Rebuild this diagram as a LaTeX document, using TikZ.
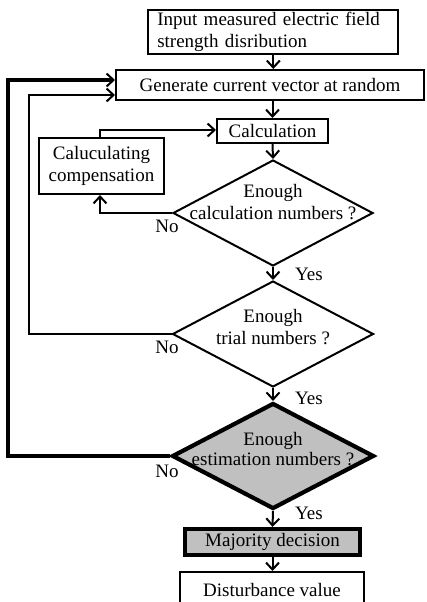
\documentclass[tikz,border=0pt]{standalone}
\usepackage{fontspec}
\setmainfont{Liberation Serif}
\usetikzlibrary{shapes.geometric,arrows.meta}
\definecolor{boxgray}{RGB}{192,192,192}
\tikzset{
  thin line/.style={line width=2pt},
  thick line/.style={line width=4.2pt},
  tip/.style={-{Straight Barb[length=7pt,width=13pt,line width=2pt]}},
  box/.style={draw,thin line,rectangle,inner sep=0pt,font=\fontsize{19}{22}\selectfont,align=center},
  dia/.style={draw,thin line,diamond,inner sep=0pt},
  txt/.style={inner sep=0pt,font=\fontsize{19}{22}\selectfont,align=center},
  lbl/.style={inner sep=0pt,font=\fontsize{19}{22}\selectfont}
}
\begin{document}
\begin{tikzpicture}[x=1pt,y=-1pt]
\useasboundingbox (0,0) rectangle (426,602);
% boxes
\node[box,text width=232pt,inner xsep=9pt,minimum height=44pt,align=left] (in) at (273.3,32) {Input measured electric field\\strength disribution};
\node[box,minimum width=308pt,minimum height=30pt] (gen) at (270,85) {Generate current vector at random};
\node[box,minimum width=111pt,minimum height=24pt] (calc) at (272.5,131) {Calculation};
\node[box,minimum width=125pt,minimum height=56pt] (comp) at (101.5,166) {Caluculating\\compensation};
\node[dia,minimum width=200pt,minimum height=106pt] (d1) at (273,213) {};
\node[dia,minimum width=201pt,minimum height=106pt] (d2) at (273,334) {};
\node[dia,thick line,fill=boxgray,minimum width=202pt,minimum height=106pt] (d3) at (273,456) {};
\node[txt] (t1) at (273,202) {Enough\\calculation numbers ?};
\node[txt] (t2) at (273,327) {Enough\\trial numbers ?};
\node[txt,font=\fontsize{19}{20}\selectfont] (t3) at (273,449) {Enough\\estimation numbers ?};
\node[box,thick line,fill=boxgray,minimum width=175pt,minimum height=26pt] (maj) at (272.5,542) {Majority decision};
\node[box,minimum width=184pt,minimum height=36pt] (dist) at (272,590) {Disturbance value};
% labels
\node[lbl] (n1) at (167,226) {No};
\node[lbl] (n2) at (167,347) {No};
\node[lbl] (n3) at (167,471) {No};
\node[lbl] (y1) at (309,274) {Yes};
\node[lbl] (y2) at (309,398) {Yes};
\node[lbl] (y3) at (309,513) {Yes};
% coordinates for loops
\coordinate (g2) at ([yshift=-10pt]gen.west);
\coordinate (g3) at ([yshift=5pt]gen.west);
\coordinate (c2) at (29,334);
\coordinate (c3) at (8,456);
% main flow
\draw[thin line,tip] (in.south) -- (in.south |- gen.north);
\draw[thin line,tip] (calc.north |- gen.south) -- (calc.north);
\draw[thin line,tip] (calc.south) -- (d1.north);
\draw[thin line,tip] (d1.south) -- (d2.north);
\draw[thin line,tip] (d2.south) -- (d3.north);
\draw[thin line,tip] (d3.south) -- (maj.north);
\draw[thin line,tip] (maj.south) -- (maj.south |- dist.north);
% compensation loop
\draw[thin line,tip] (d1.west) -| ([xshift=-1.5pt]comp.south);
\draw[thin line,tip] ([xshift=-1.5pt]comp.north) |- ([yshift=1pt]calc.west);
% trial loop
\draw[thin line,tip] (d2.west) -- (c2) |- (g2);
% estimation loop
\draw[thick line,tip] (d3.west) -- (c3) |- (g3);
\end{tikzpicture}
\end{document}
